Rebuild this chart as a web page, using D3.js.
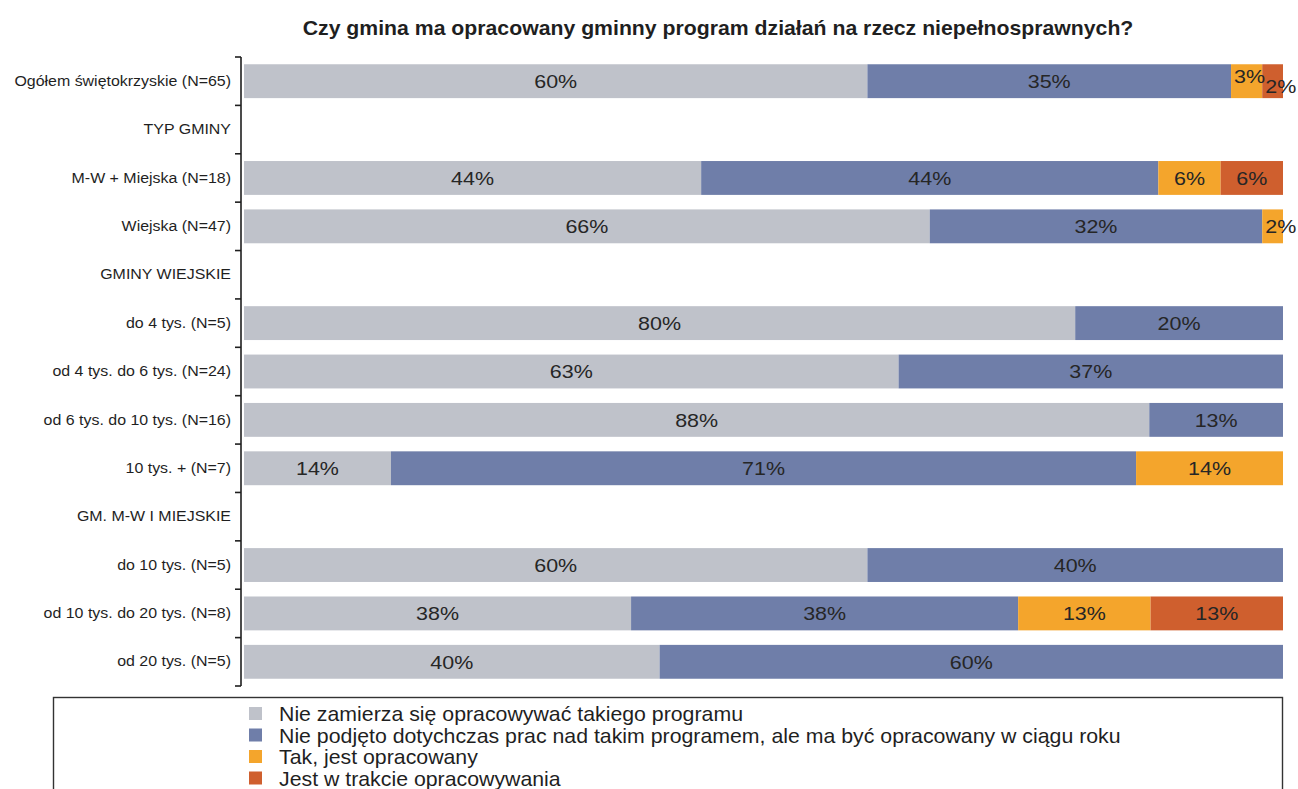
<!DOCTYPE html>
<html>
<head>
<meta charset="utf-8">
<script src="https://cdn.jsdelivr.net/npm/d3@7"></script>
<style>
  html, body { margin: 0; padding: 0; background: #fff; }
  svg { display: block; font-family: "Liberation Sans", Arial, Helvetica, sans-serif; }
</style>
</head>
<body>
<svg id="chart" width="1298" height="789"></svg>
<script>
const title = "Czy gmina ma opracowany gminny program działań na rzecz niepełnosprawnych?";

const categories = [
  "Ogółem świętokrzyskie (N=65)",
  "TYP GMINY",
  "M-W + Miejska (N=18)",
  "Wiejska (N=47)",
  "GMINY WIEJSKIE",
  "do 4 tys. (N=5)",
  "od 4 tys. do 6 tys. (N=24)",
  "od 6 tys. do 10 tys. (N=16)",
  "10 tys. + (N=7)",
  "GM. M-W I MIEJSKIE",
  "do 10 tys. (N=5)",
  "od 10 tys. do 20 tys. (N=8)",
  "od 20 tys. (N=5)"
];

const seriesNames = [
  "Nie zamierza się opracowywać takiego programu",
  "Nie podjęto dotychczas prac nad takim programem, ale ma być opracowany w ciągu roku",
  "Tak, jest opracowany",
  "Jest w trakcie opracowywania"
];

// percentages per category (null = section header row)
const nieZamierza = [60, null, 44, 66, null, 80, 63, 88, 14, null, 60, 38, 40];
const niePodjeto  = [35, null, 44, 32, null, 20, 37, 13, 71, null, 40, 38, 60];
const takJest     = [ 3, null,  6,  2, null,  0,  0,  0, 14, null,  0, 13,  0];
const wTrakcie    = [ 2, null,  6,  0, null,  0,  0,  0,  0, null,  0, 13,  0];

const colors = ["#bfc2ca", "#6f7ea9", "#f4a52c", "#cf5f2e"];

const svg = d3.select("#chart");
const x0 = 244, x1 = 1283;
const yTop = 57, yBottom = 686;
const axisX = 241;

// text drawn slightly widened around its anchor point
function place(sel, x, y, sx) {
  return sel.attr("transform", `translate(${x},${y}) scale(${sx},1)`);
}

place(svg.append("text"), 718, 35, 1.09)
  .attr("text-anchor", "middle")
  .attr("font-weight", "bold")
  .attr("font-size", 19.5)
  .attr("fill", "#1f1f1f")
  .text(title);

const y = d3.scaleBand()
  .domain(categories)
  .range([yTop, yBottom])
  .paddingInner(0.3)
  .paddingOuter(0.15);

const seriesValues = [nieZamierza, niePodjeto, takJest, wTrakcie];

const rows = categories.map((c, i) => {
  const vals = seriesValues.map(s => s[i]);
  return { cat: c, vals, header: vals[0] === null };
});

const barsG = svg.append("g");
rows.filter(r => !r.header).forEach(r => {
  const total = d3.sum(r.vals);
  // each row fills the full width: the scale spans the row's total
  const x = d3.scaleLinear().domain([0, total]).range([x0, x1]);
  let acc = 0;
  const segs = [];
  r.vals.forEach((v, k) => {
    if (v > 0) segs.push({ k, v, start: acc, end: acc + v });
    acc += v;
  });
  const g = barsG.append("g");
  g.selectAll("rect").data(segs).join("rect")
    .attr("x", d => x(d.start))
    .attr("y", y(r.cat))
    .attr("width", d => x(d.end) - x(d.start))
    .attr("height", y.bandwidth())
    .attr("fill", d => colors[d.k]);

  const cy = y(r.cat) + y.bandwidth() / 2;
  const narrow = segs.filter(d => x(d.end) - x(d.start) < 40);
  segs.forEach(d => {
    const w = x(d.end) - x(d.start);
    const isNarrow = w < 40;
    let dy = 0;
    if (isNarrow && narrow.length > 1) {
      dy = narrow.indexOf(d) % 2 === 0 ? -5 : 5;
    }
    place(g.append("text"),
          isNarrow ? x(d.start) + 3 : (x(d.start) + x(d.end)) / 2,
          cy + dy, 1.13)
      .attr("dy", "0.36em")
      .attr("text-anchor", isNarrow ? "start" : "middle")
      .attr("font-size", 19)
      .attr("fill", "#262626")
      .text(d.v + "%");
  });
});

// category axis
const axis = d3.axisLeft(y).tickSize(0).tickPadding(10);
const axisG = svg.append("g")
  .attr("transform", `translate(${axisX},0)`)
  .call(axis);
axisG.select(".domain").remove();
axisG.selectAll(".tick text")
  .attr("x", null)
  .attr("transform", "translate(-10,0) scale(1.1,1)")
  .attr("font-size", 14.5)
  .attr("fill", "#1f1f1f")
  .attr("font-family", "'Liberation Sans', Arial, sans-serif");

svg.append("line")
  .attr("x1", axisX).attr("x2", axisX)
  .attr("y1", yTop).attr("y2", yBottom)
  .attr("stroke", "#1f1f1f").attr("stroke-width", 1.6);

const bounds = d3.range(categories.length + 1).map(i => yTop + i * y.step());
svg.append("g").selectAll("line").data(bounds).join("line")
  .attr("x1", axisX - 6).attr("x2", axisX)
  .attr("y1", d => d).attr("y2", d => d)
  .attr("stroke", "#1f1f1f").attr("stroke-width", 1.6);

// legend
const legend = svg.append("g");
legend.append("rect")
  .attr("x", 53.5).attr("y", 697.5)
  .attr("width", 1229).attr("height", 120)
  .attr("fill", "none")
  .attr("stroke", "#333").attr("stroke-width", 1.4);

const li = legend.selectAll("g.item").data(seriesNames).join("g")
  .attr("transform", (d, i) => `translate(249, ${707 + i * 21.5})`);
li.append("rect")
  .attr("width", 13).attr("height", 13)
  .attr("fill", (d, i) => colors[i]);
li.append("text")
  .attr("transform", "translate(30,7) scale(1.065,1)")
  .attr("dy", "0.36em")
  .attr("font-size", 20)
  .attr("fill", "#1f1f1f")
  .text(d => d);
</script>
</body>
</html>
